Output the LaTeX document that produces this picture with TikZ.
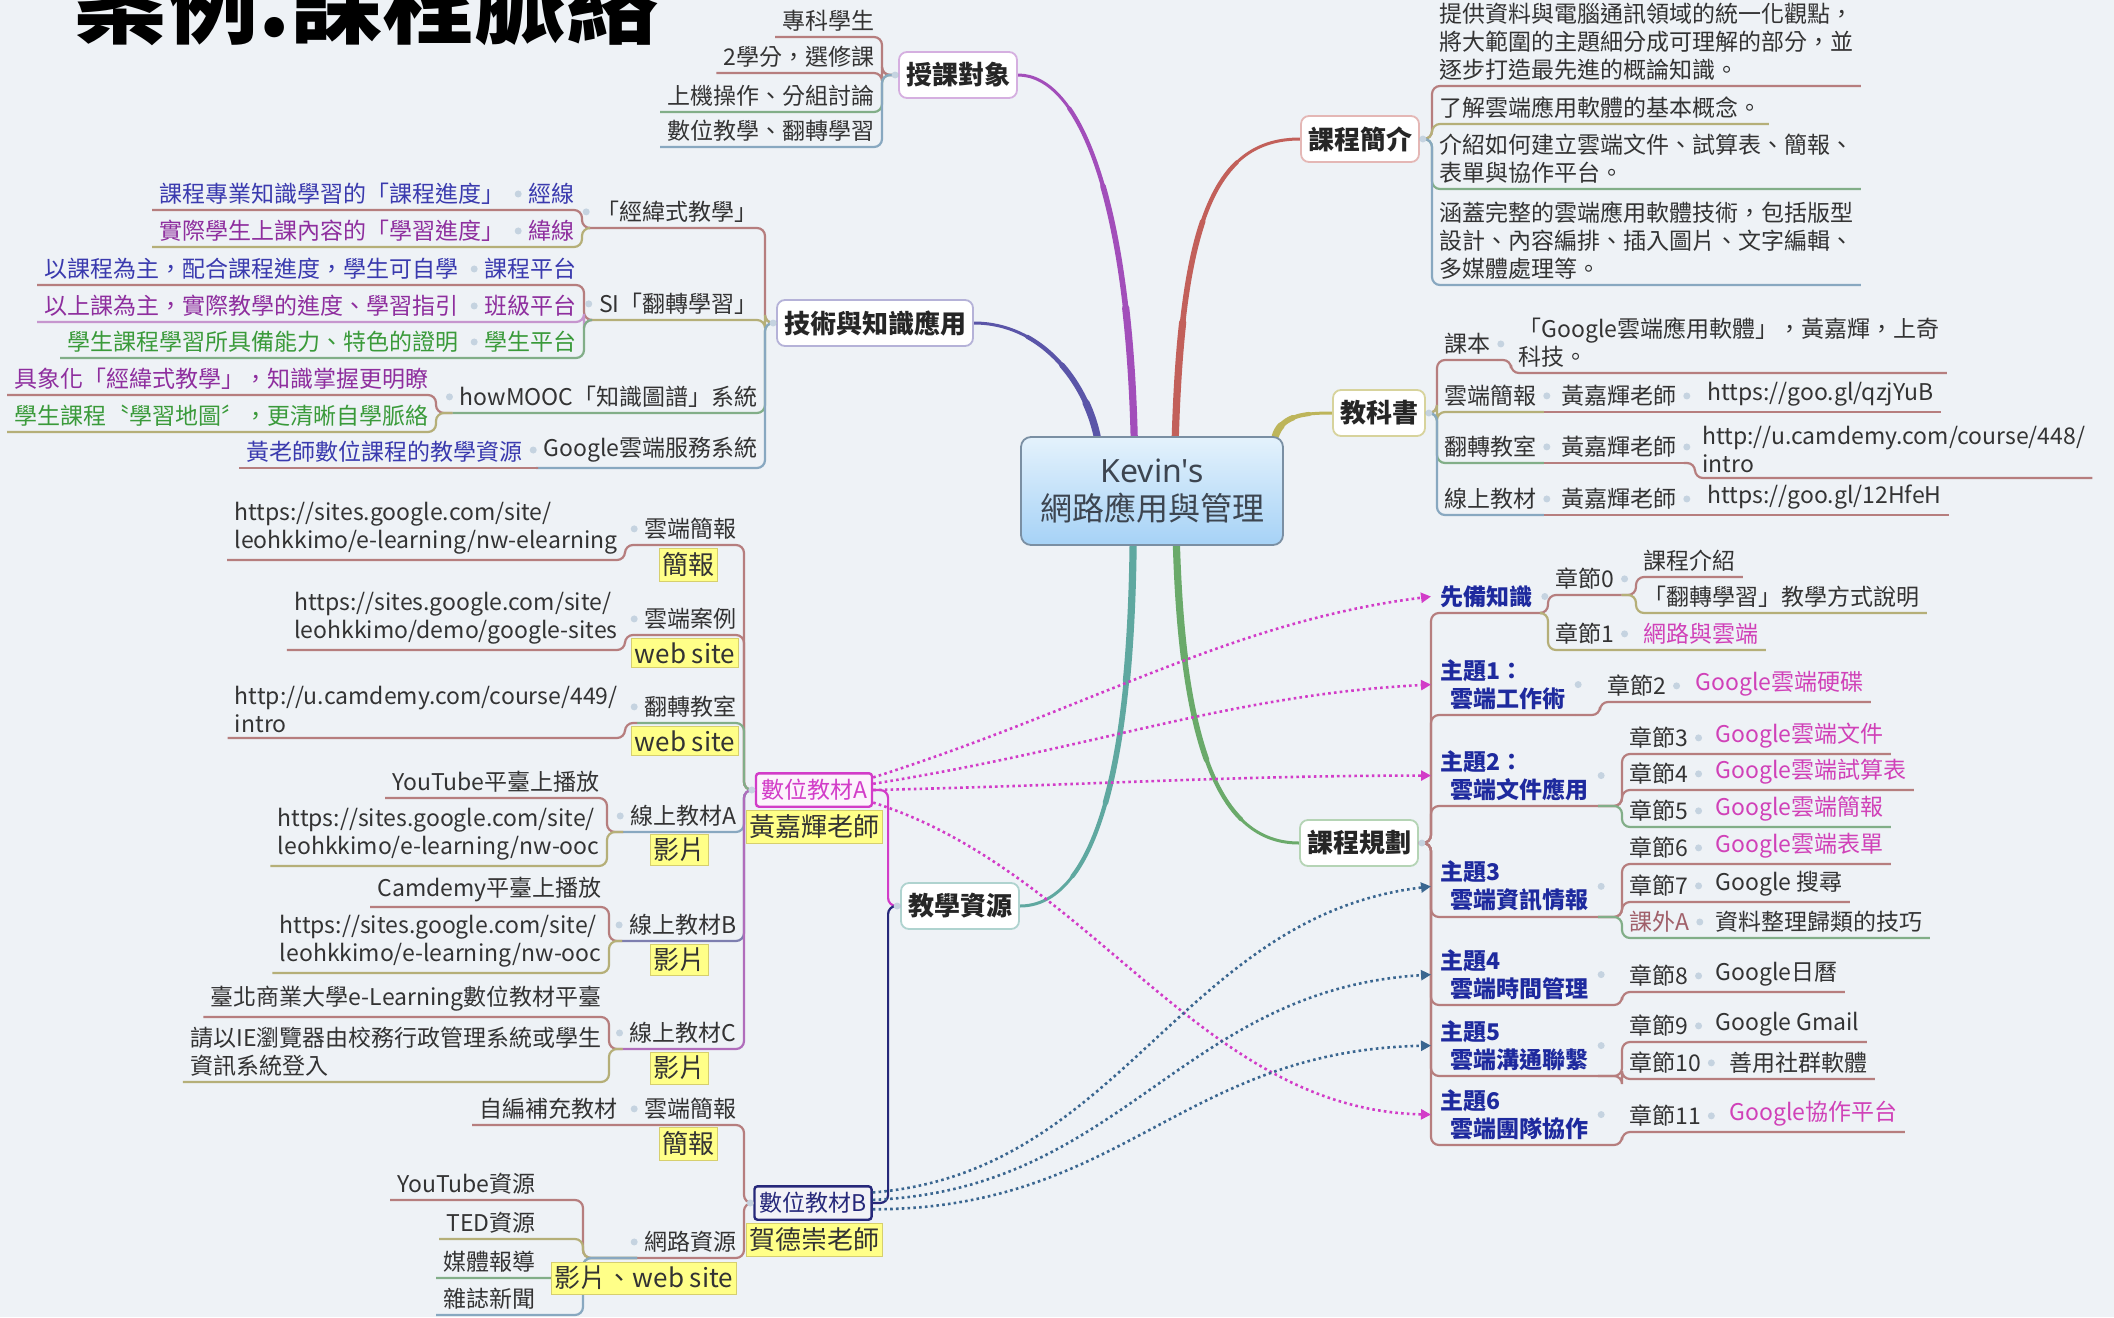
\documentclass[tikz,border=0pt]{standalone}
\usepackage{fontspec}
\setmainfont{Noto Sans CJK TC}
\newfontfamily\latinf{Noto Sans}
\usetikzlibrary{arrows.meta,calc}
\definecolor{bgc}{HTML}{EEF2F6}
\definecolor{tx}{HTML}{333333}
\definecolor{ro}{HTML}{B67E7E}
\definecolor{ol}{HTML}{B5AF78}
\definecolor{gr}{HTML}{82AE88}
\definecolor{bl}{HTML}{88A8C0}
\definecolor{mg}{HTML}{D23CC8}
\definecolor{nv}{HTML}{26287A}
\definecolor{relb}{HTML}{3A6690}
\definecolor{pk}{HTML}{D041B8}
\definecolor{tb}{HTML}{3A3AAE}
\definecolor{tp}{HTML}{8E2E9E}
\definecolor{tg}{HTML}{3A9A3A}
\definecolor{bb}{HTML}{1E2A9E}
\definecolor{ka}{HTML}{A0606A}
\definecolor{cPu}{HTML}{A24EBA}
\definecolor{cBl}{HTML}{5A55A8}
\definecolor{cRe}{HTML}{C2605A}
\definecolor{cOl}{HTML}{BDB55A}
\definecolor{cTe}{HTML}{5FA8A0}
\definecolor{cGr}{HTML}{6AAA6A}
\definecolor{lab}{HTML}{FFFF88}
\definecolor{labd}{HTML}{D6CF6E}
\definecolor{ctrT}{HTML}{E4F2FC}
\definecolor{ctrB}{HTML}{A6D2F6}
\definecolor{ctrd}{HTML}{7A8FA3}
\definecolor{ctrx}{HTML}{3D4550}
\definecolor{dotc}{HTML}{C5D3E0}
\pgfdeclarelayer{back}
\pgfsetlayers{back,main}
% partial bezier (first part up to t) of q0..q3
\newcommand\bseg[3]{%
  \coordinate (s1) at ($(q0)!#3!(q1)$);
  \coordinate (s12) at ($(q1)!#3!(q2)$);
  \coordinate (s23) at ($(q2)!#3!(q3)$);
  \coordinate (s2) at ($(s1)!#3!(s12)$);
  \coordinate (s3) at ($(s12)!#3!(s23)$);
  \coordinate (sm) at ($(s2)!#3!(s3)$);
  \draw[draw=#1, line width=#2, line cap=round] (q0) .. controls (s1) and (s2) .. (sm);}
\newcommand\branchcurve[5]{%
  \coordinate (q0) at (#2); \coordinate (q1) at (#3);
  \coordinate (q2) at (#4); \coordinate (q3) at (#5);
  \draw[draw=#1, line width=1.5pt, line cap=round] (q0) .. controls (q1) and (q2) .. (q3);
  \bseg{#1}{2.1pt}{0.7}
  \bseg{#1}{2.8pt}{0.45}
  \bseg{#1}{3.6pt}{0.2}}
\begin{document}
\begin{tikzpicture}[x=0.5pt,y=-0.5pt,
  ul/.style={draw=#1, line width=1.1pt, rounded corners=4pt},
  txt/.style={font=\fontsize{11.5}{14}\selectfont, text=tx, inner xsep=3.5pt, inner ysep=2.5pt},
  lt/.style={txt, anchor=south east},
  rt/.style={txt, anchor=south west},
  topic/.style={rt, font=\fontsize{11.5}{14}\selectfont\bfseries, text=bb, align=left, inner xsep=4.5pt},
  mbox/.style={draw=#1, fill=white, line width=0.9pt, rounded corners=4pt, font=\fontsize{13}{16}\selectfont\bfseries, text=black!85, inner xsep=3.5pt, minimum height=23pt},
  lbl/.style={fill=lab, draw=labd, line width=0.5pt, font=\fontsize{13}{15}\selectfont, text=tx, inner xsep=1.5pt, inner ysep=2pt},
  dbox/.style={draw=#1, line width=1.2pt, fill=#1!6, text=#1, font=\fontsize{11.5}{14}\selectfont, inner xsep=2.5pt, inner ysep=3pt, rounded corners=1.5pt},
  rel/.style={draw=#1, line width=1.3pt, dash pattern=on 1.3pt off 1.6pt, -{Triangle[length=5pt,width=5pt]}},
]
\useasboundingbox (0,0) rectangle (2114,1317);
\clip (0,0) rectangle (2114,1317);

% title
\node[anchor=base west, font=\fontsize{46}{50}\selectfont\bfseries, text=black, inner sep=0] (title) at (74,36) {案例.課程脈絡};

% center
\node[rounded corners=5pt, draw=ctrd, line width=0.9pt, top color=ctrT, bottom color=ctrB, minimum width=131pt, minimum height=54pt, align=center, font=\fontsize{16}{19}\selectfont, text=ctrx] (ctr) at (1152,491) {{\latinf Kevin's}\\網路應用與管理};

% main boxes
\node[mbox=cPu!45] (sk) at (958,75) {授課對象};
\node[mbox=cBl!45] (kt) at (875,323) {技術與知識應用};
\node[mbox=cRe!45] (kj) at (1360,139) {課程簡介};
\node[mbox=cOl!60] (kb) at (1379,413) {教科書};
\node[mbox=cTe!50] (kz) at (960,906) {教學資源};
\node[mbox=cGr!50] (kg) at (1359,843) {課程規劃};

\begin{pgfonlayer}{back}
\fill[bgc] (0,0) rectangle (2114,1317);
\branchcurve{cPu}{ctr.108}{1128,200}{1080,75}{sk.east}
\branchcurve{cBl}{ctr.135}{1085,380}{1040,323}{kt.east}
\branchcurve{cRe}{ctr.67}{1182,220}{1215,139}{kj.west}
\branchcurve{cOl}{ctr.24}{1282,415}{1305,413}{kb.west}
\branchcurve{cTe}{ctr.251}{1130,800}{1085,906}{kz.east}
\branchcurve{cGr}{ctr.294}{1183,760}{1225,843}{kg.west}
\end{pgfonlayer}

% ---- 授課對象
\node[lt] (k1) at (882,37) {專科學生};
\node[lt] (k2) at (882,73) {2學分，選修課};
\node[lt] (k3) at (882,112) {上機操作、分組討論};
\node[lt] (k4) at (882,147) {數位教學、翻轉學習};
\draw[ul=ro] (sk.west) -| (k1.south east) -- (k1.south west);
\draw[ul=ro] (sk.west) -| (k2.south east) -- (k2.south west);
\draw[ul=gr] (sk.west) -| (k3.south east) -- (k3.south west);
\draw[ul=bl] (sk.west) -| (k4.south east) -- (k4.south west);

% ---- 技術與知識應用
\node[lt] (t1) at (765,228) {「經緯式教學」};
\node[lt, text=tb] (t1a) at (582,210) {經線};
\node[lt, text=tb] (t1aa) at (512,210) {課程專業知識學習的「課程進度」};
\node[lt, text=tp] (t1b) at (582,247) {緯線};
\node[lt, text=tp] (t1ba) at (512,247) {實際學生上課內容的「學習進度」};
\node[lt] (t2) at (765,320) {SI「翻轉學習」};
\node[lt, text=tb] (t2a) at (584,285) {課程平台};
\node[lt, text=tb] (t2aa) at (466,285) {以課程為主，配合課程進度，學生可自學};
\node[lt, text=tp] (t2b) at (584,322) {班級平台};
\node[lt, text=tp] (t2ba) at (466,322) {以上課為主，實際教學的進度、學習指引};
\node[lt, text=tg] (t2c) at (584,358) {學生平台};
\node[lt, text=tg] (t2ca) at (466,358) {學生課程學習所具備能力、特色的證明};
\node[lt] (t3) at (765,413) {howMOOC「知識圖譜」系統};
\node[lt, text=tp] (t3a) at (436,395) {具象化「經緯式教學」，知識掌握更明瞭};
\node[lt, text=tg] (t3b) at (436,432) {學生課程〝學習地圖〞，更清晰自學脈絡};
\node[lt] (t4) at (765,468) {Google雲端服務系統};
\node[lt, text=tb] (t4a) at (530,468) {黃老師數位課程的教學資源};
\draw[ul=ro] (kt.west) -| (t1.south east) -- (t1.south west);
\draw[ul=ol] (kt.west) -| (t2.south east) -- (t2.south west);
\draw[ul=gr] (kt.west) -| (t3.south east) -- (t3.south west);
\draw[ul=bl] (kt.west) -| (t4.south east) -- (t4.south west);
\draw[ul=ro] (t1.south west) -| (t1a.south east) -- (t1a.south west) -- (t1aa.south east) -- (t1aa.south west);
\draw[ul=ol] (t1.south west) -| (t1b.south east) -- (t1b.south west) -- (t1ba.south east) -- (t1ba.south west);
\draw[ul=ro] (t2.south west) -| (t2a.south east) -- (t2a.south west) -- (t2aa.south east) -- (t2aa.south west);
\draw[ul=tp!50] (t2.south west) -| (t2b.south east) -- (t2b.south west) -- (t2ba.south east) -- (t2ba.south west);
\draw[ul=gr] (t2.south west) -| (t2c.south east) -- (t2c.south west) -- (t2ca.south east) -- (t2ca.south west);
\draw[ul=ro] (t3.south west) -| (t3a.south east) -- (t3a.south west);
\draw[ul=ol] (t3.south west) -| (t3b.south east) -- (t3b.south west);
\draw[ul=ro] (t4.south west) -- (t4a.south east) -- (t4a.south west);

% ---- 課程簡介
\node[rt, align=left] (j1) at (1432,86) {提供資料與電腦通訊領域的統一化觀點，\\將大範圍的主題細分成可理解的部分，並\\逐步打造最先進的概論知識。};
\node[rt] (j2) at (1432,124) {了解雲端應用軟體的基本概念。};
\node[rt, align=left] (j3) at (1432,189) {介紹如何建立雲端文件、試算表、簡報、\\表單與協作平台。};
\node[rt, align=left] (j4) at (1432,285) {涵蓋完整的雲端應用軟體技術，包括版型\\設計、內容編排、插入圖片、文字編輯、\\多媒體處理等。};
\draw[ul=ro] (kj.east) -| (j1.south west) -- (j1.south east);
\draw[ul=ol] (kj.east) -| (j2.south west) -- (j2.south east);
\draw[ul=gr] (kj.east) -| (j3.south west) -- (j3.south east);
\draw[ul=bl] (kj.east) -| (j4.south west) -- (j4.south east);

% ---- 教科書
\node[rt] (b1) at (1437,360) {課本};
\node[rt, align=left] (b1a) at (1511,373) {「Google雲端應用軟體」，黃嘉輝，上奇\\科技。};
\node[rt] (b2) at (1437,412) {雲端簡報};
\node[rt] (b2a) at (1554,412) {黃嘉輝老師};
\node[rt] (b2b) at (1700,412) {https://goo.gl/qzjYuB};
\node[rt] (b3) at (1437,463) {翻轉教室};
\node[rt] (b3a) at (1554,463) {黃嘉輝老師};
\node[rt, align=left] (b3b) at (1695,478) {http://u.camdemy.com/course/448/\\intro};
\node[rt] (b4) at (1437,515) {線上教材};
\node[rt] (b4a) at (1554,515) {黃嘉輝老師};
\node[rt] (b4b) at (1700,515) {https://goo.gl/12HfeH};
\draw[ul=ro] (kb.east) -| (b1.south west) -- (b1.south east);
\draw[ul=ol] (kb.east) -| (b2.south west) -- (b2.south east);
\draw[ul=gr] (kb.east) -| (b3.south west) -- (b3.south east);
\draw[ul=bl] (kb.east) -| (b4.south west) -- (b4.south east);
\draw[ul=ro] (b1.south east) -| (b1a.south west) -- (b1a.south east);
\draw[ul=ro] (b2.south east) -- (b2a.south west) -- (b2a.south east);
\draw[ul=ro] (b2a.south east) -- (b2b.south west) -- (b2b.south east);
\draw[ul=ro] (b3.south east) -- (b3a.south west) -- (b3a.south east);
\draw[ul=ro] (b3a.south east) -| (b3b.south west) -- (b3b.south east);
\draw[ul=ro] (b4.south east) -- (b4a.south west) -- (b4a.south east);
\draw[ul=ro] (b4a.south east) -- (b4b.south west) -- (b4b.south east);

% ---- 課程規劃
\node[topic] (g0) at (1431,613) {先備知識};
\node[rt] (g0a) at (1548,595) {章節0};
\node[rt] (g0aa) at (1636,577) {課程介紹};
\node[rt] (g0ab) at (1636,613) {「翻轉學習」教學方式說明};
\node[rt] (g0b) at (1548,650) {章節1};
\node[rt, text=pk] (g0ba) at (1636,650) {網路與雲端};
\node[topic] (g1) at (1431,715) {主題1：\\\hspace*{0.45em}雲端工作術};
\node[rt] (g1a) at (1600,702) {章節2};
\node[rt, text=pk] (g1aa) at (1688,702) {Google雲端硬碟};
\node[topic] (g2) at (1431,806) {主題2：\\\hspace*{0.45em}雲端文件應用};
\node[rt] (g2a) at (1622,754) {章節3};
\node[rt, text=pk] (g2aa) at (1708,754) {Google雲端文件};
\node[rt] (g2b) at (1622,790) {章節4};
\node[rt, text=pk] (g2ba) at (1708,790) {Google雲端試算表};
\node[rt] (g2c) at (1622,827) {章節5};
\node[rt, text=pk] (g2ca) at (1708,827) {Google雲端簡報};
\node[topic] (g3) at (1431,917) {主題3\\\hspace*{0.45em}雲端資訊情報};
\node[rt] (g3a) at (1622,864) {章節6};
\node[rt, text=pk] (g3aa) at (1708,864) {Google雲端表單};
\node[rt] (g3b) at (1622,902) {章節7};
\node[rt] (g3ba) at (1708,902) {Google 搜尋};
\node[rt, text=ka] (g3c) at (1622,938) {課外A};
\node[rt] (g3ca) at (1708,938) {資料整理歸類的技巧};
\node[topic] (g4) at (1431,1005) {主題4\\\hspace*{0.45em}雲端時間管理};
\node[rt] (g4a) at (1622,992) {章節8};
\node[rt] (g4aa) at (1708,992) {Google日曆};
\node[topic] (g5) at (1431,1076) {主題5\\\hspace*{0.45em}雲端溝通聯繫};
\node[rt] (g5a) at (1622,1042) {章節9};
\node[rt] (g5aa) at (1708,1042) {Google Gmail};
\node[rt] (g5b) at (1622,1079) {章節10};
\node[rt] (g5ba) at (1722,1079) {善用社群軟體};
\node[topic] (g6) at (1431,1145) {主題6\\\hspace*{0.45em}雲端團隊協作};
\node[rt] (g6a) at (1622,1132) {章節11};
\node[rt, text=pk] (g6aa) at (1722,1132) {Google協作平台};
\foreach \n in {g0,g1,g2,g3,g4,g5,g6}
  \draw[ul=ro] (kg.east) -| (\n.south west) -- (\n.south east);
\draw[ul=ro] (g0.south east) -| (g0a.south west) -- (g0a.south east);
\draw[ul=ol] (g0.south east) -| (g0b.south west) -- (g0b.south east) -- (g0ba.south west) -- (g0ba.south east);
\draw[ul=ro] (g0a.south east) -| (g0aa.south west) -- (g0aa.south east);
\draw[ul=ol] (g0a.south east) -| (g0ab.south west) -- (g0ab.south east);
\draw[ul=ro] (g1.south east) -| (g1a.south west) -- (g1a.south east) -- (g1aa.south west) -- (g1aa.south east);
\draw[ul=ro] (g2.south east) -| (g2a.south west) -- (g2a.south east) -- (g2aa.south west) -- (g2aa.south east);
\draw[ul=ro] (g2.south east) -| (g2b.south west) -- (g2b.south east) -- (g2ba.south west) -- (g2ba.south east);
\draw[ul=gr] (g2.south east) -| (g2c.south west) -- (g2c.south east) -- (g2ca.south west) -- (g2ca.south east);
\draw[ul=ro] (g3.south east) -| (g3a.south west) -- (g3a.south east) -- (g3aa.south west) -- (g3aa.south east);
\draw[ul=ro] (g3.south east) -| (g3b.south west) -- (g3b.south east) -- (g3ba.south west) -- (g3ba.south east);
\draw[ul=gr] (g3.south east) -| (g3c.south west) -- (g3c.south east) -- (g3ca.south west) -- (g3ca.south east);
\draw[ul=ro] (g4.south east) -| (g4a.south west) -- (g4a.south east) -- (g4aa.south west) -- (g4aa.south east);
\draw[ul=ro] (g5.south east) -| (g5a.south west) -- (g5a.south east) -- (g5aa.south west) -- (g5aa.south east);
\draw[ul=ro] (g5.south east) -| (g5b.south west) -- (g5b.south east) -- (g5ba.south west) -- (g5ba.south east);
\draw[ul=ro] (g6.south east) -| (g6a.south west) -- (g6a.south east) -- (g6aa.south west) -- (g6aa.south east);

% ---- 教學資源
\node[dbox=mg] (dA) at (814,790) {數位教材A};
\node[dbox=nv] (dB) at (813,1203) {數位教材B};
\draw[ul=mg] (kz.west) -- ++(-12,0) |- (dA.east);
\draw[ul=nv] (kz.west) -- ++(-12,0) |- (dB.east);

\node[lt] (a1) at (744,545) {雲端簡報};
\node[lt, align=left] (a1c) at (625,560) {https://sites.google.com/site/\\leohkkimo/e-learning/nw-elearning};
\node[lt] (a2) at (744,635) {雲端案例};
\node[lt, align=left] (a2c) at (625,650) {https://sites.google.com/site/\\leohkkimo/demo/google-sites};
\node[lt] (a3) at (744,723) {翻轉教室};
\node[lt, align=left] (a3c) at (625,738) {http://u.camdemy.com/course/449/\\intro};
\node[lt] (a4) at (744,832) {線上教材A};
\node[lt] (a4a) at (607,798) {YouTube平臺上播放};
\node[lt, align=left] (a4b) at (607,866) {https://sites.google.com/site/\\leohkkimo/e-learning/nw-ooc};
\node[lt] (a5) at (744,941) {線上教材B};
\node[lt] (a5a) at (609,907) {Camdemy平臺上播放};
\node[lt, align=left] (a5b) at (609,973) {https://sites.google.com/site/\\leohkkimo/e-learning/nw-ooc};
\node[lt] (a6) at (744,1049) {線上教材C};
\node[lt] (a6a) at (609,1017) {臺北商業大學e-Learning數位教材平臺};
\node[lt, align=left] (a6b) at (609,1082) {請以IE瀏覽器由校務行政管理系統或學生\\資訊系統登入};
\draw[ul=ro] (dA.west) -| (a1.south east) -- (a1.south west);
\draw[ul=ro] (dA.west) -| (a2.south east) -- (a2.south west);
\draw[ul=gr] (dA.west) -| (a3.south east) -- (a3.south west);
\draw[ul=bl] (dA.west) -| (a4.south east) -- (a4.south west);
\draw[ul=nv!60] (dA.west) -| (a5.south east) -- (a5.south west);
\draw[ul=tp!70] (dA.west) -| (a6.south east) -- (a6.south west);
\draw[ul=ro] (a1.south west) -| (a1c.south east) -- (a1c.south west);
\draw[ul=ro] (a2.south west) -| (a2c.south east) -- (a2c.south west);
\draw[ul=ro] (a3.south west) -| (a3c.south east) -- (a3c.south west);
\draw[ul=ro] (a4.south west) -| (a4a.south east) -- (a4a.south west);
\draw[ul=ol] (a4.south west) -| (a4b.south east) -- (a4b.south west);
\draw[ul=ro] (a5.south west) -| (a5a.south east) -- (a5a.south west);
\draw[ul=ol] (a5.south west) -| (a5b.south east) -- (a5b.south west);
\draw[ul=ro] (a6.south west) -| (a6a.south east) -- (a6a.south west);
\draw[ul=ol] (a6.south west) -| (a6b.south east) -- (a6b.south west);

\node[lt] (c1) at (744,1125) {雲端簡報};
\node[lt] (c1a) at (625,1125) {自編補充教材};
\node[lt] (c2) at (744,1258) {網路資源};
\coordinate (c2s) at (583,1258);
\node[lt] (c2a) at (543,1200) {YouTube資源};
\node[lt] (c2b) at (543,1239) {TED資源};
\node[lt] (c2c) at (543,1278) {媒體報導};
\node[lt] (c2d) at (543,1315) {雜誌新聞};
\draw[ul=ro] (dB.west) -| (c1.south east) -- (c1.south west) -- (c1a.south east) -- (c1a.south west);
\draw[ul=ro] (dB.west) -| (c2.south east) -- (c2.south west);
\draw[ul=ro] (c2.south west) -- (c2s) |- (c2a.south east) -- (c2a.south west);
\draw[ul=ol] (c2.south west) -- (c2s) |- (c2b.south east) -- (c2b.south west);
\draw[ul=gr] (c2.south west) -- (c2s) |- (c2c.south east) -- (c2c.south west);
\draw[ul=bl] (c2.south west) -- (c2s) |- (c2d.south east) -- (c2d.south west);

% collapse dots
\foreach \n in {t1,t1a,t1b,t2,t2a,t2b,t2c,t3,t4,a1,a2,a3,a4,a5,a6,c1,c2,sk,kt,kz,dA,dB}
  \fill[dotc] ($(\n.west)+(-3,0)$) circle (3.5);
\foreach \n in {b1,b2,b2a,b3,b3a,b4,b4a,g0,g0a,g0b,g1,g1a,g2,g2a,g2b,g2c,g3,g3a,g3b,g3c,g4,g4a,g5,g5a,g5b,g6,g6a,kj,kb,kg}
  \fill[dotc] ($(\n.east)+(3,0)$) circle (3.5);

% labels
\node[lbl] (lA) at (814,827) {黃嘉輝老師};
\node[lbl] (lB) at (814,1240) {賀德崇老師};
\node[lbl] (a1l) at (688,565) {簡報};
\node[lbl] (a2l) at (685,653) {web site};
\node[lbl] (a3l) at (685,741) {web site};
\node[lbl] (a4l) at (679,850) {影片};
\node[lbl] (a5l) at (679,960) {影片};
\node[lbl] (a6l) at (679,1068) {影片};
\node[lbl] (c1l) at (688,1144) {簡報};
\node[lbl] (c2l) at (644,1278) {影片、web site};

% relationships
\draw[rel=mg] (dA.12) .. controls +(220,-70) and +(-200,25) .. (g0.west);
\draw[rel=mg] (dA.6) .. controls +(220,-35) and +(-200,10) .. (g1.west);
\draw[rel=mg] (dA.0) .. controls +(220,-5) and +(-200,0) .. (g2.west);
\draw[rel=mg] (dA.-12) .. controls +(220,70) and +(-230,-5) .. (g6.west);
\draw[rel=relb] (dB.10) .. controls +(250,-20) and +(-250,30) .. (g3.west);
\draw[rel=relb] (dB.3) .. controls +(250,-10) and +(-250,15) .. (g4.west);
\draw[rel=relb] (dB.-6) .. controls +(250,0) and +(-250,5) .. (g5.west);
\end{tikzpicture}
\end{document}
